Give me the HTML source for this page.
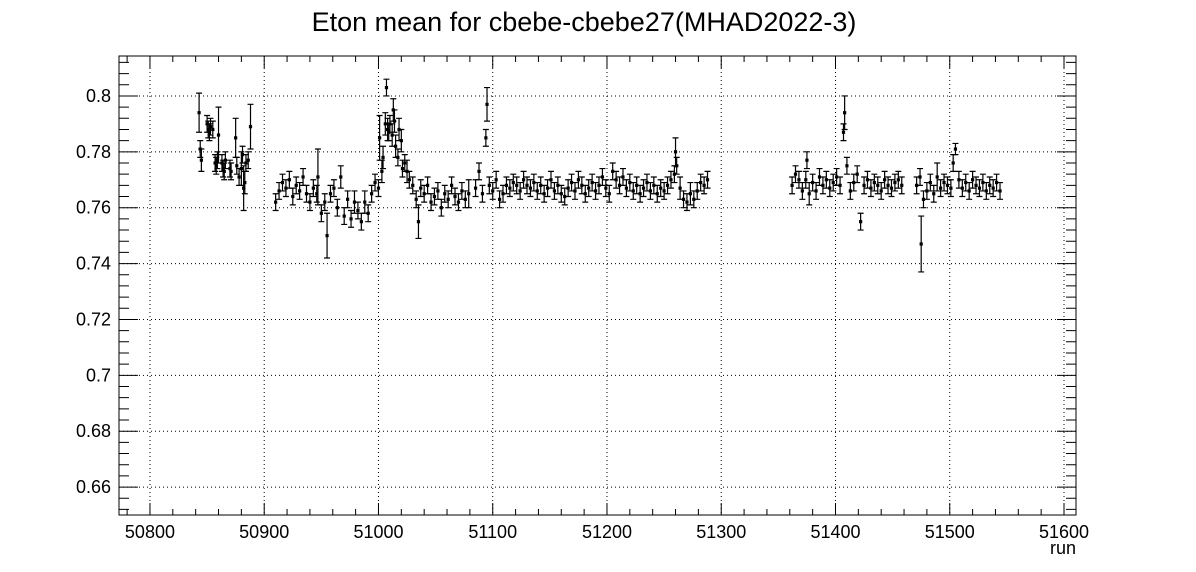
<!DOCTYPE html>
<html><head><meta charset="utf-8"><style>
html,body{margin:0;padding:0;background:#fff;}
svg{display:block;font-family:"Liberation Sans",sans-serif;}
</style></head><body>
<svg id="chart" width="1196" height="572" viewBox="0 0 1196 572" xmlns="http://www.w3.org/2000/svg">
<rect x="0" y="0" width="1196" height="572" fill="#fff"/>
<text x="584" y="31" font-size="27" text-anchor="middle">Eton mean for cbebe-cbebe27(MHAD2022-3)</text>
<g id="grid"></g>
<g id="axes"></g>
<g id="marks"></g>
<text x="1076" y="554" font-size="18" text-anchor="end">run</text>
</svg>
<script>
const xTicks = [50800,50900,51000,51100,51200,51300,51400,51500,51600];
const yTicks = [0.66,0.68,0.7,0.72,0.74,0.76,0.78,0.8];
const yTickLabels = ["0.66","0.68","0.7","0.72","0.74","0.76","0.78","0.8"];

const runs1 = [50843,50844,50845,50850,50851,50852,50853,50855,50857,50858,50859,50860,50863,50864,50865,50866,50870,50871,50875,50876,50878,50880,50881,50882,50883,50884,50886,50888];
const means1 = [.794,.781,.777,.790,.788,.787,.789,.788,.776,.775,.777,.786,.776,.774,.773,.777,.774,.773,.785,.775,.771,.774,.779,.767,.769,.776,.777,.789];
const errs1 = [.007,.003,.004,.003,.003,.003,.003,.003,.003,.003,.003,.010,.003,.003,.003,.003,.003,.003,.007,.003,.003,.006,.003,.008,.004,.003,.003,.008];

const runs2 = [50910,50913,50916,50919,50922,50925,50928,50931,50934,50937,50940,50943,50946,50947,50950,50953,50955,50958,50961,50964,50967,50970,50973,50976,50979,50982,50985,50988,50991,50994,50997];
const means2 = [.762,.766,.769,.767,.770,.764,.768,.766,.771,.765,.762,.767,.765,.771,.758,.762,.750,.765,.767,.760,.771,.757,.763,.756,.762,.759,.755,.762,.758,.765,.769];
const errs2 = [.003,.003,.003,.003,.003,.003,.003,.003,.003,.003,.003,.003,.003,.010,.003,.003,.008,.003,.003,.003,.004,.003,.003,.003,.004,.003,.003,.004,.003,.003,.003];

const runs3 = [51000,51001,51003,51004,51006,51007,51008,51009,51010,51012,51013,51014,51015,51017,51018,51020,51021,51023,51025,51027,51030,51033,51035,51037,51040,51043,51046,51049,51052,51055,51058,51061,51064,51067,51070,51073,51076,51079];
const means3 = [.767,.785,.773,.778,.790,.803,.788,.787,.790,.786,.795,.791,.782,.778,.788,.784,.774,.776,.773,.770,.768,.763,.755,.767,.765,.768,.762,.764,.766,.760,.765,.763,.768,.764,.762,.766,.763,.765];
const errs3 = [.003,.008,.004,.004,.004,.003,.004,.003,.003,.004,.004,.004,.004,.003,.004,.004,.003,.003,.004,.003,.003,.003,.006,.003,.003,.003,.003,.003,.003,.003,.003,.003,.003,.003,.003,.003,.003,.005];

const runs4 = [51085,51088,51091,51094,51095,51097,51100,51103,51106,51109,51112,51115,51118,51121,51124,51127,51130,51133,51136,51139,51142,51145,51148,51151,51154,51157,51160,51163,51166,51169,51172,51175,51178,51181,51184,51187,51190,51193,51196,51199,51202,51205,51208,51211,51214,51217,51220,51223,51226,51229,51232,51235,51238,51241,51244,51247,51250,51253,51256,51259,51260,51261,51264,51267,51270,51273,51276,51279,51282,51285,51288];
const means4 = [.767,.773,.765,.785,.797,.768,.766,.770,.763,.765,
.768,.767,.769,.768,.766,.770,.768,.767,.769,.766,
.768,.765,.767,.770,.766,.768,.765,.764,.767,.769,
.766,.770,.768,.765,.767,.769,.766,.768,.771,.767,
.765,.773,.770,.768,.771,.767,.769,.766,.768,.765,
.767,.769,.766,.768,.765,.767,.766,.768,.770,.772,
.780,.775,.767,.763,.762,.765,.763,.766,.769,.768,.770];
const errs4 = [.003,.003,.003,.003,.006,.003,.003,.003,.003,.003,
.003,.003,.003,.003,.003,.003,.003,.003,.003,.003,
.003,.003,.003,.003,.003,.003,.003,.003,.003,.003,
.003,.003,.003,.003,.003,.003,.003,.003,.003,.003,
.003,.003,.003,.003,.003,.003,.003,.003,.003,.003,
.003,.003,.003,.003,.003,.003,.003,.003,.003,.003,
.005,.003,.004,.003,.003,.004,.003,.003,.003,.003,.003];

const runs5 = [51362,51365,51368,51371,51374,51375,51377,51380,51383,51386,51389,51392,51395,51398,51401,51404,51407,51408,51410,51413,51416,51419,51422,51425,51428,51431,51434,51437,51440,51443,51446,51449,51452,51455,51458,51471,51474,51475,51477,51480,51483,51486,51489,51492,51495,51498,51501,51503,51505,51508,51511,51514,51517,51520,51523,51526,51529,51532,51535,51538,51541,51544];
const means5 = [.768,.772,.770,.766,.770,.777,.765,.769,.766,.771,.768,.770,.767,.769,.771,.768,.787,.794,.775,.766,.769,.772,.755,.768,.770,.767,.769,.768,.766,.770,.768,.767,.769,.770,.768,.768,.771,.747,.763,.766,.769,.765,.771,.767,.769,.768,.767,.776,.781,.770,.767,.769,.766,.770,.768,.767,.769,.766,.768,.767,.769,.766];
const errs5 = [.003,.003,.003,.003,.003,.003,.004,.003,.003,.003,.003,.003,.003,.003,.003,.003,.003,.006,.003,.003,.003,.003,.003,.003,.003,.003,.003,.003,.003,.003,.003,.003,.003,.003,.003,.003,.003,.010,.003,.003,.003,.003,.005,.003,.003,.003,.003,.003,.002,.003,.003,.003,.003,.003,.003,.003,.003,.003,.003,.003,.003,.003];

const L=119,R=1076,T=56,B=515;
const xMin=50772.9,xMax=51610.5,yMin=0.65,yMax=0.8143;
function xs(v){return L+(v-xMin)/(xMax-xMin)*(R-L);}
function ys(v){return B-(v-yMin)/(yMax-yMin)*(B-T);}
const NS="http://www.w3.org/2000/svg";
function mk(tag,attrs,parent){const e=document.createElementNS(NS,tag);for(const k in attrs)e.setAttribute(k,attrs[k]);parent.appendChild(e);return e;}
const grid=document.getElementById('grid'),axes=document.getElementById('axes'),marks=document.getElementById('marks');

xTicks.forEach(t=>{
  const x=xs(t);
  if(x>L+1&&x<R-1){const g=mk('line',{x1:x,x2:x,y1:T,y2:B,stroke:'#000','stroke-width':1,'stroke-dasharray':'1,3'},grid);
  
  }
  const tl=mk('text',{x:x,y:538,'font-size':18,'text-anchor':'middle'},axes);
  
  
  tl.textContent=String(t);
});
yTicks.forEach((t,i)=>{
  const y=ys(t);
  const g=mk('line',{x1:L,x2:R,y1:y,y2:y,stroke:'#000','stroke-width':1,'stroke-dasharray':'1,3'},grid);
  
  
  const tl=mk('text',{x:111,y:y+6,'font-size':18,'text-anchor':'end'},axes);
  
  
  tl.textContent=yTickLabels[i];
});
const frame=mk('rect',{x:L,y:T,width:R-L,height:B-T,fill:'none',stroke:'#000','stroke-width':1},axes);


let d='';
for(let v=50780;v<=51610;v+=20){const x=xs(v);if(x<L||x>R)continue;const len=(v%100===0)?12:6;d+=`M${x},${B}v${-len}M${x},${T}v${len}`;}
for(let k=0;k<=41;k++){const v=0.652+k*0.004;if(v>yMax)break;const y=ys(v);const major=Math.abs((v*1000)%20)<0.5||Math.abs((v*1000)%20-20)<0.5;const len=major?19:10;d+=`M${L},${y}h${len}M${R},${y}h${-len}`;}
const tk=mk('path',{d:d,stroke:'#000','stroke-width':1,fill:'none'},axes);



function drawSeries(runs,means,errs){
  const n=Math.min(runs.length,means.length,errs.length);
  for(let i=0;i<n;i++){
    const x=xs(runs[i]),y=ys(means[i]),y1=ys(means[i]+errs[i]),y2=ys(means[i]-errs[i]);
    const g=mk('g',{},marks);
    
    
    mk('path',{d:`M${x},${y1}V${y2}M${x-3},${y1}h6M${x-3},${y2}h6`,stroke:'#000','stroke-width':1.2,fill:'none'},g);
    mk('rect',{x:x-1.6,y:y-1.6,width:3.2,height:3.2,fill:'#000'},g);
  }
}
drawSeries(runs1,means1,errs1);
drawSeries(runs2,means2,errs2);
drawSeries(runs3,means3,errs3);
drawSeries(runs4,means4,errs4);
drawSeries(runs5,means5,errs5);
</script>
</body></html>
